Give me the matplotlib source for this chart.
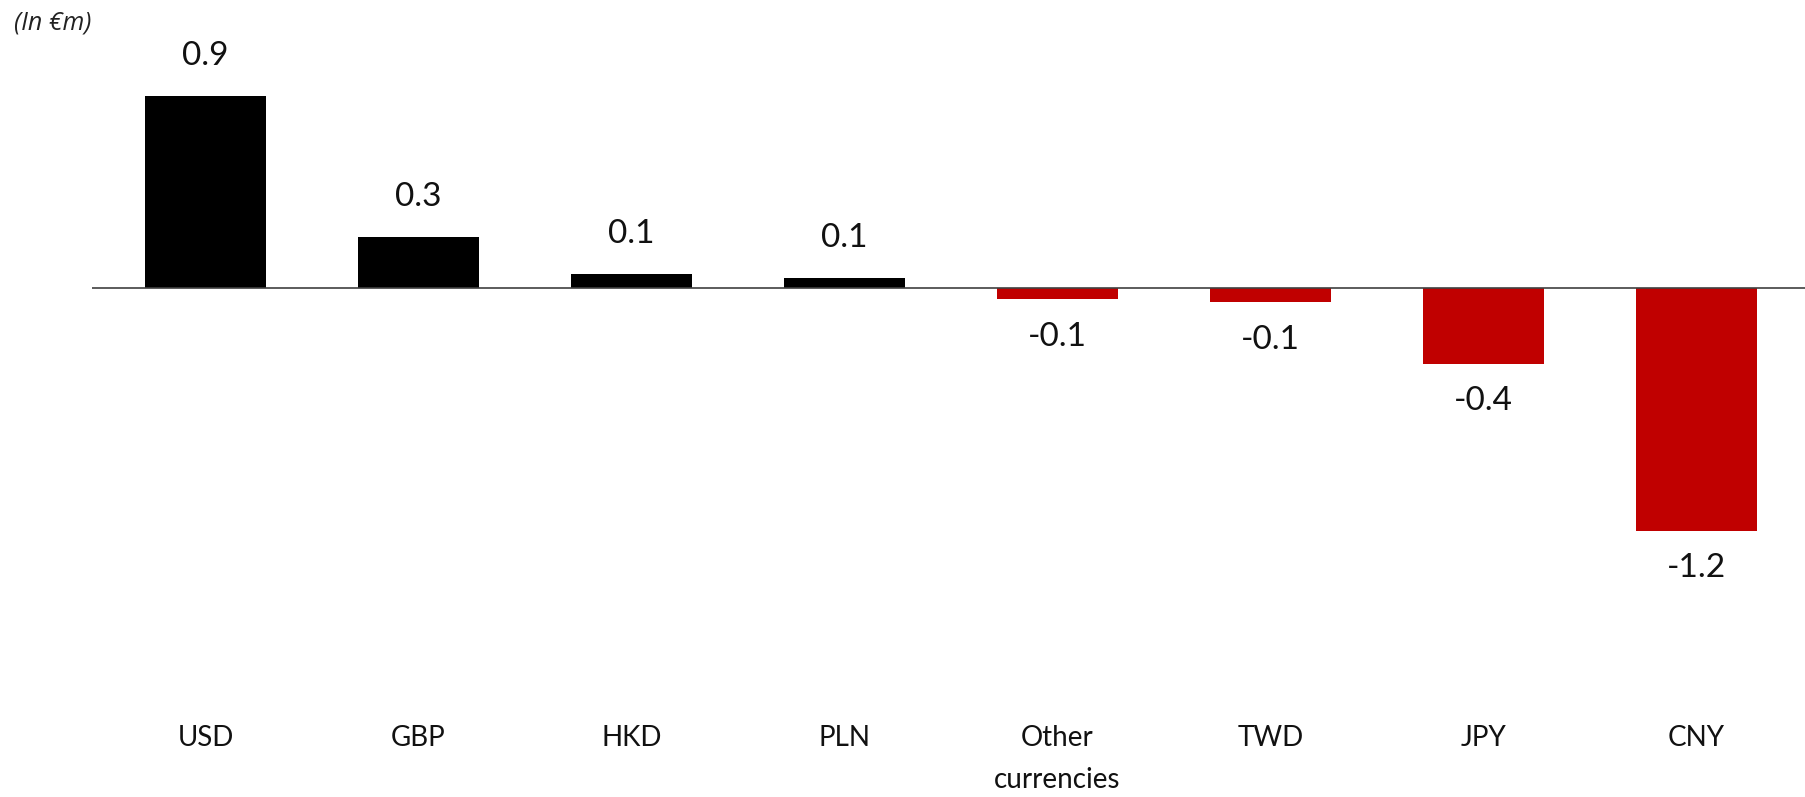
import matplotlib
matplotlib.use("Agg")
import matplotlib.pyplot as plt
from matplotlib.transforms import blended_transform_factory

# Data (in EUR m)
currencies = ["USD", "GBP", "HKD", "PLN", "Other\ncurrencies", "TWD", "JPY", "CNY"]
values = [0.94, 0.25, 0.07, 0.05, -0.055, -0.07, -0.37, -1.19]
labels = ["0.9", "0.3", "0.1", "0.1", "-0.1", "-0.1", "-0.4", "-1.2"]

plt.rcParams['font.family'] = ['Lato', 'DejaVu Sans']

fig = plt.figure(figsize=(18.05, 7.97), dpi=100)
ax = fig.add_axes([0.051, 0.2472, 0.949, 0.6775])

x = list(range(len(currencies)))
colors = ["black" if v >= 0 else "#C00000" for v in values]
ax.bar(x, values, width=0.57, color=colors, zorder=2)
ax.axhline(0, color="#404040", lw=1.2, zorder=3)

ax.set_xlim(-0.533, 7.51)
ax.set_ylim(-1.529, 1.118)
ax.axis("off")

for xi, v, lab in zip(x, values, labels):
    off = 29 if v >= 0 else -27
    ax.annotate(lab, (xi, v), xytext=(0, off), textcoords="offset points",
                ha="center", va="center", fontsize=24, color="#111111")

# category labels below the chart
tr = blended_transform_factory(ax.transData, fig.transFigure)
for xi, name in zip(x, currencies):
    lines = name.split("\n")
    for i, line in enumerate(lines):
        ypx = 738 + 42 * i
        ax.text(xi, 1 - ypx / 797, line, transform=tr, ha="center", va="center",
                fontsize=20, color="#111111")

fig.text(14 / 1805, 1 - 23 / 797, "(In €m)", ha="left", va="center", fontsize=18,
         style="italic", family=["Open Sans", "DejaVu Sans"], color="#222222")

fig.savefig("out.png", dpi=100, facecolor="white")
